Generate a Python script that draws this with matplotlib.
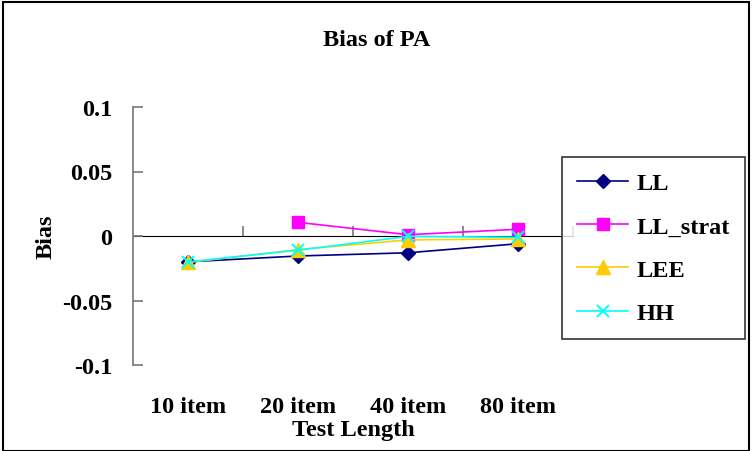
import numpy as np
import matplotlib
matplotlib.use("Agg")
import matplotlib.pyplot as plt
from matplotlib.patches import Rectangle

# datos
categorias = ["10 item", "20 item", "40 item", "80 item"]
ll = [-0.020, -0.0155, -0.013, -0.006]
ll_strat = [np.nan, 0.0106, 0.001, 0.0052]
lee = [-0.0205, -0.0105, -0.003, -0.0023]
hh = [-0.0200, -0.0110, -0.0003, -0.0010]
yticks = [0.1, 0.05, 0, -0.05, -0.1]
ytick_labels = ["0.1", "0.05", "0", "-0.05", "-0.1"]

plt.rcParams['font.family'] = ['Liberation Serif', 'DejaVu Serif']
plt.rcParams['font.weight'] = 'bold'

W, H = 752, 452
fs = 17.5
fig = plt.figure(figsize=(W / 100, H / 100), dpi=100)
ax = fig.add_axes([133 / W, 1 - 366 / H, (573 - 133) / W, (366 - 108) / H])

x = np.arange(len(categorias))
ax.plot(x, ll, color='#000080', marker='D', ms=7.5, lw=1.2, label='LL')
ax.plot(x, ll_strat, color='#FF00FF', marker='s', ms=8.5, lw=1.2, label='LL_strat')
ax.plot(x, lee, color='#FFCC00', marker='^', ms=9.5, lw=1.2, label='LEE')
ax.plot(x, hh, color='#00FFFF', marker='x', ms=8.5, mew=1.4, lw=1.2, label='HH')

gris = '#777777'
ax.set_xlim(-0.5, 3.5)
ax.set_ylim(-0.1, 0.1)
for s in ['top', 'right', 'bottom']:
    ax.spines[s].set_visible(False)
ax.spines['left'].set_color(gris)
ax.spines['left'].set_linewidth(1.2)

ax.set_yticks(yticks)
ax.set_yticklabels(ytick_labels, fontsize=fs, fontweight='bold')
ax.tick_params(axis='y', direction='in', length=7, width=1.2, color=gris, pad=15)

ax.set_xticks(x)
ax.set_xticklabels(categorias, fontsize=fs, fontweight='bold')
ax.tick_params(axis='x', length=0, pad=22)

# eje horizontal en cero con marcas entre categorias
sec = ax.secondary_xaxis(0.5)
sec.set_xticks([0.5, 1.5, 2.5, 3.5])
sec.set_xticklabels([])
sec.tick_params(direction='out', length=7, width=1.2, color=gris)
sec.spines['bottom'].set_color(gris)
sec.spines['bottom'].set_linewidth(1.2)

ax.set_ylabel('Bias', fontsize=fs, fontweight='bold', labelpad=4)
ax.set_xlabel('Test Length', fontsize=fs, fontweight='bold', labelpad=2)
fig.text(377 / W, 1 - 40 / H, 'Bias of PA', ha='center', va='center',
         fontsize=fs, fontweight='bold')

leg = fig.legend(loc='upper left', bbox_to_anchor=(562 / W, 1 - 158 / H),
                 bbox_transform=fig.transFigure, fontsize=fs, frameon=True,
                 fancybox=False, edgecolor='black', borderpad=0.62,
                 labelspacing=0.88, handlelength=2.1, handletextpad=0.35,
                 borderaxespad=0)
leg.get_frame().set_linewidth(1.2)
for t in leg.get_texts():
    t.set_fontweight('bold')

fig.patches.append(Rectangle((3 / W, 0), 1 - 6 / W, 1 - 3 / H, transform=fig.transFigure,
                             fill=False, edgecolor='black', lw=1.5))

fig.savefig('out.png', dpi=100)
